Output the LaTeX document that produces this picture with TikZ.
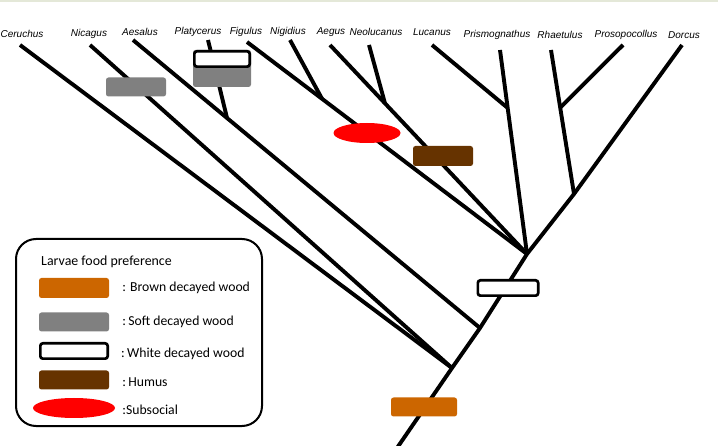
\documentclass[tikz,border=0pt]{standalone}
\usepackage{fontspec}
\setmainfont{Carlito}
\newfontfamily\taxonfont{Liberation Sans}
\usetikzlibrary{shapes.geometric, positioning, calc}
\definecolor{woodbrown}{HTML}{CC6600}
\definecolor{woodsoft}{HTML}{808080}
\definecolor{humus}{HTML}{663300}
\definecolor{subsocial}{HTML}{FF0000}
\definecolor{topstrip}{HTML}{E4E8D8}

\begin{document}
\begin{tikzpicture}[
  x=1pt, y=-1pt,
  branch/.style={line width=3.9pt},
  taxon/.style={font=\taxonfont\itshape\fontsize{10}{12}\selectfont, inner sep=0pt},
  foodbox/.style={rectangle, rounded corners=2.5pt, fill=#1, minimum width=60pt, minimum height=19pt, inner sep=0pt},
  whitebox/.style={rectangle, rounded corners=2.5pt, draw=black, fill=white, line width=2.7pt, minimum width=60.3pt, minimum height=15.3pt, inner sep=0pt},
  socialmark/.style={ellipse, fill=subsocial, minimum width=67pt, minimum height=20pt, inner sep=0pt},
  legtext/.style={font=\fontsize{13.7}{15}\selectfont, anchor=west, inner sep=0pt},
]
  \useasboundingbox (0,0) rectangle (718,446);
  \fill[topstrip] (0,0) rectangle (718,2);

  % Taxon labels
  \node[taxon] (lCeruchus) at (22,34) {Ceruchus};
  \node[taxon] (lNicagus) at (89,34) {Nicagus};
  \node[taxon] (lAesalus) at (140,32) {Aesalus};
  \node[taxon] (lPlatycerus) at (198,32) {Platycerus};
  \node[taxon] (lFigulus) at (246,32) {Figulus};
  \node[taxon] (lNigidius) at (288,32) {Nigidius};
  \node[taxon] (lAegus) at (331,32) {Aegus};
  \node[taxon] (lNeolucanus) at (376,32) {Neolucanus};
  \node[taxon] (lLucanus) at (432,32) {Lucanus};
  \node[taxon] (lPrismognathus) at (497,35) {Prismognathus};
  \node[taxon] (lRhaetulus) at (560,35) {Rhaetulus};
  \node[taxon] (lProsopocollus) at (626,35) {Prosopocollus};
  \node[taxon] (lDorcus) at (684,35) {Dorcus};

  % Tips
  \coordinate (tCeruchus) at (20,45);
  \coordinate (tNicagus) at (90,45);
  \coordinate (tAesalus) at (133,40);
  \coordinate (tPlatycerus) at (208,40);
  \coordinate (tFigulus) at (247,42);
  \coordinate (tNigidius) at (290,40);
  \coordinate (tAegus) at (330,45);
  \coordinate (tNeolucanus) at (369,45);
  \coordinate (tLucanus) at (432,45);
  \coordinate (tPrismognathus) at (500,50);
  \coordinate (tRhaetulus) at (551,50);
  \coordinate (tProsopocollus) at (623,45);
  \coordinate (tDorcus) at (682,45);

  % Junctions
  \coordinate (root) at (397,448);
  \coordinate (jA) at (452,368);
  \coordinate (jB) at (480,328);
  \coordinate (jC) at (527,254);
  \coordinate (jD) at (574,194);
  \coordinate (jPlatycerus) at ($(tAesalus)!0.271!(jB)$);
  \coordinate (jNigidius) at ($(tFigulus)!0.268!(jC)$);
  \coordinate (jNeolucanus) at ($(tAegus)!0.279!(jC)$);
  \coordinate (jLucanus) at ($(tPrismognathus)!0.284!(jC)$);
  \coordinate (jProsopocollus) at ($(tRhaetulus)!0.40!(jD)$);

  % Branches
  \draw[branch] (root) -- (jA) -- (jB) -- (jC) -- (jD) -- (tDorcus);
  \draw[branch] (tCeruchus) -- (jA);
  \draw[branch] (tNicagus) -- (jA);
  \draw[branch] (tAesalus) -- (jB);
  \draw[branch] (tPlatycerus) -- (jPlatycerus);
  \draw[branch] (tFigulus) -- (jC);
  \draw[branch] (tNigidius) -- (jNigidius);
  \draw[branch] (tAegus) -- (jC);
  \draw[branch] (tNeolucanus) -- (jNeolucanus);
  \draw[branch] (tPrismognathus) -- (jC);
  \draw[branch] (tLucanus) -- (jLucanus);
  \draw[branch] (tRhaetulus) -- (jD);
  \draw[branch] (tProsopocollus) -- (jProsopocollus);

  % Food preference marks
  \node[foodbox=woodsoft] (mNicagus) at (136,87) {};
  \node[foodbox=woodsoft, minimum width=58pt, minimum height=37pt] (mPlatySoft) at (222,68.5) {};
  \node[whitebox, minimum width=55.3pt] (mPlatyWhite) at (222,59) {};
  \node[socialmark] (mFigulus) at (367,133) {};
  \node[foodbox=humus, minimum height=20pt] (mAegus) at (443,156) {};
  \node[whitebox] (mCrown) at (508,288) {};
  \node[foodbox=woodbrown, minimum width=66pt] (mRoot) at (424,407) {};

  % Legend
  \node[draw, rounded corners=20pt, line width=2pt, minimum width=246pt, minimum height=187pt] (legend) at (139,332.5) {};
  \node[legtext, font=\fontsize{13.9}{15}\selectfont] (legtitle) at (41,262) {Larvae food preference};
  \node[foodbox=woodbrown, minimum width=70pt, minimum height=20pt] (kBrown) at (74,288) {};
  \node[foodbox=woodsoft, minimum width=70pt] (kSoft) at (74,322) {};
  \node[whitebox, minimum width=67.3pt] (kWhite) at (74,351) {};
  \node[foodbox=humus, minimum width=70pt] (kHumus) at (74,380) {};
  \node[socialmark, minimum width=82pt] (kSocial) at (74,408) {};
  \node[legtext, right=13pt of kBrown] (tBrown) {: Brown decayed wood};
  \node[legtext, right=13pt of kSoft] (tSoft) {:\,Soft decayed wood};
  \node[legtext, right=12pt of kWhite, yshift=-3pt] (tWhite) {:\,White decayed wood};
  \node[legtext, right=13pt of kHumus, yshift=-2pt] (tHumus) {:\,Humus};
  \node[legtext, right=7pt of kSocial, yshift=-2pt] (tSocial) {:Subsocial};
\end{tikzpicture}
\end{document}
